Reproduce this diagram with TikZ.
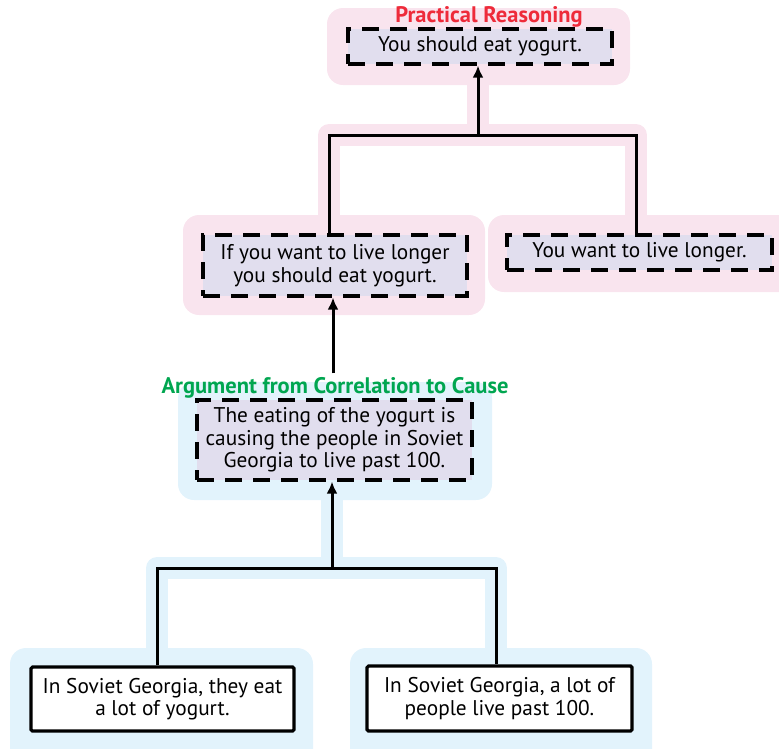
\documentclass[tikz,border=0pt]{standalone}
\usepackage{fontspec}
\setmainfont{PT Sans}
\usepackage{tikz}
\usetikzlibrary{
	arrows.meta,
	positioning
}

\definecolor{halopink}{HTML}{F9E4EE}
\definecolor{haloblue}{HTML}{E2F3FC}
\definecolor{claimfill}{HTML}{E1DEEE}
\definecolor{titlered}{HTML}{EE2B3A}
\definecolor{titlegreen}{HTML}{00A650}

\newcommand\boxfont{\fontsize{21.3}{22.5}\selectfont}
\newcommand\headfont{\bfseries\fontsize{22.5}{24}\selectfont}

\tikzset{
	claim/.style={draw, line width=3.2pt, dash pattern=on 17pt off 11pt,
		fill=claimfill, align=center, inner sep=0pt, font=\boxfont},
	fact/.style={draw, line width=3.2pt, fill=white, rounded corners=1.5pt,
		align=center, inner sep=0pt, font=\boxfont},
	heading/.style={text=#1, anchor=base, font=\headfont},
	halo/.style={draw=#1, line width=22pt, line join=round},
	patch/.style={fill=#1, rounded corners=16pt},
	wire/.style={draw, line width=3pt},
	link/.style={wire, -{Latex[length=12pt,width=11pt]}}
}

\begin{document}
\begin{tikzpicture}[x=1pt,y=-1pt]
	\useasboundingbox (0,0) rectangle (779,748);

	% halos behind the two arguments
	\fill[patch=halopink] (327,8) rectangle (630,85);
	\fill[patch=halopink] (183,215) rectangle (485,315);
	\fill[patch=halopink] (488,215) rectangle (810,292);
	\draw[halo=halopink] (478,85) -- (478,135);
	\draw[halo=halopink] (329,215) |- (636,135) -- (636,215);

	\fill[patch=haloblue] (178,382) rectangle (492,500);
	\fill[patch=haloblue] (10,648) rectangle (313,770);
	\fill[patch=haloblue] (350,648) rectangle (652,770);
	\draw[halo=haloblue] (332,500) -- (332,568);
	\draw[halo=haloblue] (157,648) |- (496,568) -- (496,648);

	% claims
	\node[claim, minimum width=264pt, minimum height=35pt] (eat) at (480,46.5)
		{You should eat yogurt.};
	\node[claim, minimum width=264pt, minimum height=61pt] (cond) at (335,265.5)
		{If you want to live longer\\you should eat yogurt.};
	\node[claim, minimum width=265pt, minimum height=35pt] (want) at (639.5,252.5)
		{You want to live longer.};
	\node[claim, minimum width=275pt, minimum height=80pt] (cause) at (334.5,440)
		{The eating of the yogurt is\\causing the people in Soviet\\Georgia to live past 100.};
	\node[fact, minimum width=263pt, minimum height=64pt] (yogurt) at (162.5,699)
		{In Soviet Georgia, they eat\\a lot of yogurt.};
	\node[fact, minimum width=265pt, minimum height=65pt] (old) at (499.5,698.5)
		{In Soviet Georgia, a lot of\\people live past 100.};

	% scheme names
	\node[heading=titlered] (practical) at (489,22) {Practical Reasoning};
	\node[heading=titlegreen] (correl) at (335,393) {Argument from Correlation to Cause};

	% links
	\coordinate (topjoin) at (478,135);
	\coordinate (lowjoin) at (332,568);
	\draw[wire] ([xshift=-6pt]cond.north) |- (topjoin) -| ([xshift=-3.5pt]want.north);
	\draw[link] (topjoin) -- (eat.south -| topjoin);
	\draw[link] ([xshift=-2pt]correl.north) -- ([xshift=-2pt]cond.south);
	\draw[wire] ([xshift=-5.5pt]yogurt.north) |- (lowjoin) -| ([xshift=-3.5pt]old.north);
	\draw[link] (lowjoin) -- (cause.south -| lowjoin);
\end{tikzpicture}
\end{document}
